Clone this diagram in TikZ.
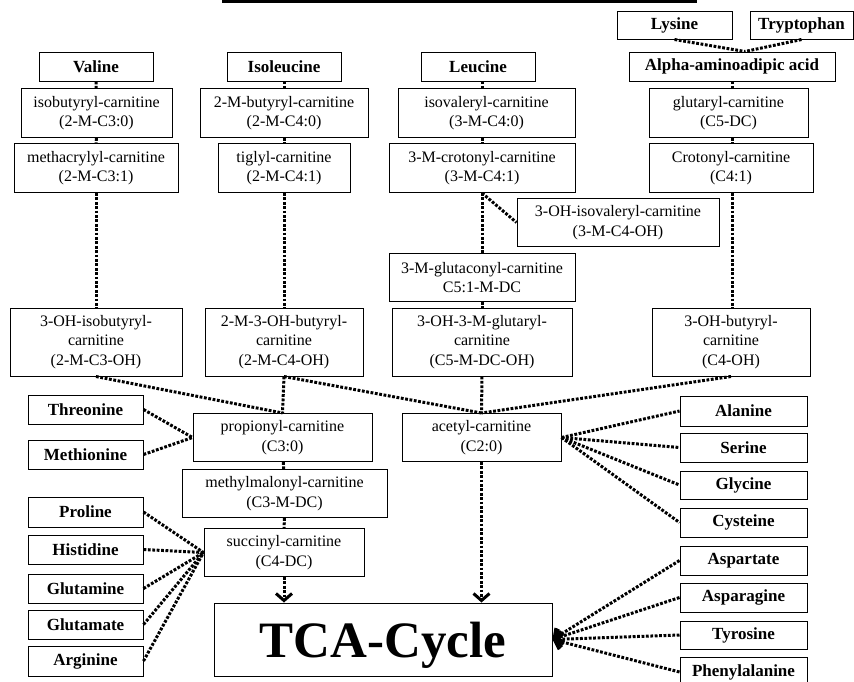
\documentclass[tikz,border=0pt]{standalone}
\usepackage{fontspec}
\setmainfont{Liberation Serif}
\usetikzlibrary{arrows.meta}
\begin{document}
\begin{tikzpicture}[x=1pt,y=-1pt,
  box/.style={draw, line width=1pt, inner sep=0pt, align=center, font=\fontsize{16}{19.5}\selectfont},
  aa/.style={box, font=\fontsize{17}{20}\selectfont\bfseries},
  dots/.style={line width=3pt, dash pattern=on 2.8pt off 1.6pt},
  arr/.style={dots, -{Straight Barb[length=7pt,width=16pt]}}]
\useasboundingbox (0,0) rectangle (854,681);
\clip (0,0) rectangle (854,681);
\fill (222,0) rectangle (697,3);
% column coordinates
\coordinate (c3) at (482,0);
\coordinate (c4) at (732,0);
% Valine column
\node[aa, minimum width=114pt, minimum height=29pt] (val) at (96,66.5) {Valine};
\node[box, minimum width=151pt, minimum height=49pt] (ib) at (96.5,113) {isobutyryl-carnitine\\(2-M-C3:0)};
\node[box, minimum width=164pt, minimum height=49pt] (mac) at (96,168) {methacrylyl-carnitine\\(2-M-C3:1)};
\node[box, minimum width=172pt, minimum height=68pt] (ib3) at (96,342) {3-OH-isobutyryl-\\carnitine\\(2-M-C3-OH)};
% Isoleucine column
\node[aa, minimum width=114pt, minimum height=29pt] (ile) at (284,66.5) {Isoleucine};
\node[box, minimum width=168pt, minimum height=49pt] (mb) at (284,113) {2-M-butyryl-carnitine\\(2-M-C4:0)};
\node[box, minimum width=132pt, minimum height=49pt] (tig) at (284,168) {tiglyl-carnitine\\(2-M-C4:1)};
\node[box, minimum width=158pt, minimum height=68pt] (mb3) at (284,342) {2-M-3-OH-butyryl-\\carnitine\\(2-M-C4-OH)};
% Leucine column
\node[aa, minimum width=114pt, minimum height=29pt] (leu) at (478,66.5) {Leucine};
\node[box, minimum width=177pt, minimum height=49pt] (iv) at (486.5,113) {isovaleryl-carnitine\\(3-M-C4:0)};
\node[box, minimum width=186pt, minimum height=49pt] (mcr) at (482,168) {3-M-crotonyl-carnitine\\(3-M-C4:1)};
\node[box, minimum width=202pt, minimum height=48pt] (iv3) at (618,222.5) {3-OH-isovaleryl-carnitine\\(3-M-C4-OH)};
\node[box, minimum width=186pt, minimum height=48pt] (mgc) at (482,277.5) {3-M-glutaconyl-carnitine\\C5:1-M-DC};
\node[box, minimum width=180pt, minimum height=68pt] (hmg) at (482,342) {3-OH-3-M-glutaryl-\\carnitine\\(C5-M-DC-OH)};
% Lysine column
\node[aa, minimum width=115pt, minimum height=28pt] (lys) at (674.5,25) {Lysine};
\node[aa, minimum width=103pt, minimum height=28pt] (trp) at (801.5,25) {Tryptophan};
\node[aa, minimum width=206pt, minimum height=29pt] (aad) at (732,66.5) {Alpha-aminoadipic acid};
\node[box, minimum width=159pt, minimum height=49pt] (glu) at (728.5,113) {glutaryl-carnitine\\(C5-DC)};
\node[box, minimum width=164pt, minimum height=49pt] (cro) at (731,168) {Crotonyl-carnitine\\(C4:1)};
\node[box, minimum width=158pt, minimum height=68pt] (hb) at (731,342) {3-OH-butyryl-\\carnitine\\(C4-OH)};
% middle
\node[box, minimum width=179pt, minimum height=48pt] (prop) at (282.5,437.5) {propionyl-carnitine\\(C3:0)};
\node[box, minimum width=159pt, minimum height=48pt] (ace) at (481.5,437.5) {acetyl-carnitine\\(C2:0)};
\node[box, minimum width=205pt, minimum height=48pt] (mm) at (284.5,493.5) {methylmalonyl-carnitine\\(C3-M-DC)};
\node[box, minimum width=160pt, minimum height=48pt] (suc) at (284,552.5) {succinyl-carnitine\\(C4-DC)};
\node[box, minimum width=338pt, minimum height=73pt, text depth=0pt, font=\fontsize{51}{55}\selectfont\bfseries] (tca) at (383,639.5) {TCA-Cycle};
% left amino acids
\node[aa, minimum width=115pt, minimum height=29pt] (thr) at (85.5,409.5) {Threonine};
\node[aa, minimum width=115pt, minimum height=29pt] (met) at (85.5,454.5) {Methionine};
\node[aa, minimum width=115pt, minimum height=30pt] (pro) at (85.5,512) {Proline};
\node[aa, minimum width=115pt, minimum height=29pt] (his) at (85.5,549.5) {Histidine};
\node[aa, minimum width=115pt, minimum height=29pt] (gln) at (85.5,588.5) {Glutamine};
\node[aa, minimum width=115pt, minimum height=29pt] (glt) at (85.5,624.5) {Glutamate};
\node[aa, minimum width=115pt, minimum height=30pt] (arg) at (85.5,661) {Arginine};
% right amino acids
\node[aa, minimum width=127pt, minimum height=30pt] (ala) at (743.5,411) {Alanine};
\node[aa, minimum width=127pt, minimum height=29pt] (ser) at (743.5,447.5) {Serine};
\node[aa, minimum width=127pt, minimum height=28pt] (gly) at (743.5,485) {Glycine};
\node[aa, minimum width=127pt, minimum height=29pt] (cys) at (743.5,522.5) {Cysteine};
\node[aa, minimum width=127pt, minimum height=29pt] (asp) at (743.5,560.5) {Aspartate};
\node[aa, minimum width=127pt, minimum height=29pt] (asn) at (743.5,597.5) {Asparagine};
\node[aa, minimum width=127pt, minimum height=28pt] (tyr) at (743.5,635) {Tyrosine};
\node[aa, minimum width=127pt, minimum height=30pt] (phe) at (743.5,672) {Phenylalanine};
% connectors: columns
\draw[dots] (val) -- (ib);
\draw[dots] (ib) -- (mac);
\draw[dots] (mac) -- (ib3);
\draw[dots] (ile) -- (mb);
\draw[dots] (mb) -- (tig);
\draw[dots] (tig) -- (mb3);
\draw[dots] (leu.south -| c3) -- (iv.north -| c3);
\draw[dots] (iv.south -| c3) -- (mcr.north -| c3);
\draw[dots] (mcr.south) -- (mgc.north);
\draw[dots] (mcr.south) -- (iv3.west);
\draw[dots] (mgc.south) -- (hmg.north);
\coordinate (aj) at ([xshift=13pt]aad.north);
\draw[dots] (lys.south) -- (aj);
\draw[dots] (trp.south) -- (aj);
\draw[dots] (aad.south -| c4) -- (glu.north -| c4);
\draw[dots] (glu.south -| c4) -- (cro.north -| c4);
\draw[dots] (cro.south -| c4) -- (hb.north -| c4);
% convergence
\draw[dots] (ib3.south) -- (prop.north);
\draw[dots] (mb3.south) -- (prop.north);
\draw[dots] (mb3.south) -- (ace.north);
\draw[dots] (hmg.south) -- (ace.north);
\draw[dots] (hb.south) -- (ace.north);
\draw[dots] (prop) -- (mm);
\draw[dots] (mm) -- (suc);
% amino acids to carnitines
\draw[dots] (thr.east) -- (prop.west);
\draw[dots] (met.east) -- (prop.west);
\foreach \n in {pro,his,gln,glt,arg} \draw[dots] (\n.east) -- (suc.west);
\foreach \n in {ala,ser,gly,cys} \draw[dots] (ace.east) -- (\n.west);
% into TCA
\draw[arr] (suc.south) -- (suc.south |- tca.north);
\draw[arr] (ace.south) -- (ace.south |- tca.north);
\foreach \n in {asp,asn,tyr,phe} \draw[arr] (\n.west) -- (tca.east);
\end{tikzpicture}
\end{document}
